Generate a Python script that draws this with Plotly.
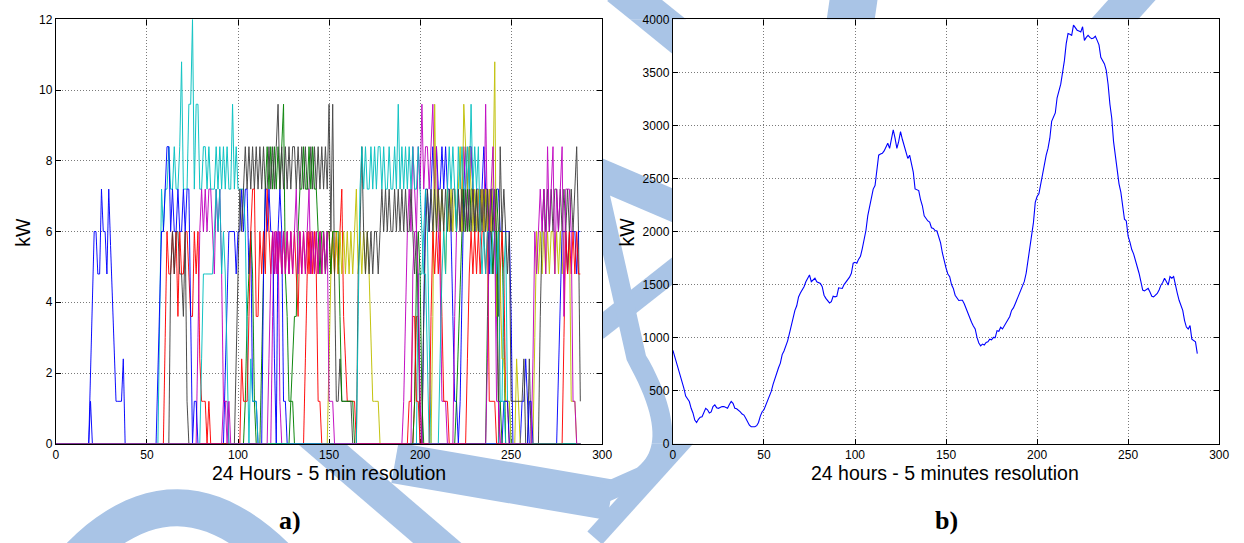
import math
import plotly.graph_objects as go

W, H = 1244, 543

# 288 five-minute intervals over one day
slots = list(range(289))

# Individual EV charging profiles in kW, stored as (first interval, values) sessions
ev01 = [
    (18, [0, 2.0, 4.0, 6.0, 6.0, 4.8, 4.8, 7.2, 6.0, 6.0, 4.8, 7.2, 5.6, 4.1, 2.6, 1.2, 1.2, 1.2, 1.2, 2.4, 0]),
    (92, [0, 2.0, 4.0, 6.0, 6.0, 6.0, 6.0, 4.8, 6.0, 6.0, 7.2, 6.0, 7.2, 7.2, 4.8, 6.0, 1.2, 1.2, 1.2, 0]),
    (121, [0, 6.0, 7.2, 6.0, 1.2, 1.2, 0]),
    (201, [0, 3.6, 7.2, 7.2, 6.0, 7.2, 8.4, 7.2, 8.4, 7.2, 7.2, 8.4, 7.2, 8.4, 7.2, 7.2, 6.0, 3.6, 1.2, 1.2,
           0, 1.2, 4.8, 7.2, 8.4, 7.2, 8.4, 8.4, 7.2, 6.0, 7.2, 7.2, 6.0, 7.2, 8.4, 7.2, 7.2, 4.8, 7.2, 7.2,
           6.0, 7.2, 7.2, 6.0, 6.0, 6.0, 6.0, 6.0, 6.0, 3.6, 0]),
    (255, [0, 1.2, 1.2, 2.4, 1.2, 0]),
]
ev02 = [
    (103, [0, 1.2, 3.6, 4.8, 6.0, 4.8, 1.2, 0]),
    (112, [0, 2.4, 4.8, 7.2, 8.4, 7.2, 8.4, 7.2, 8.4, 7.2, 8.4, 7.2, 8.4, 9.6, 4.8, 3.6, 1.2, 1.2, 1.2, 0]),
    (219, [0, 1.2, 3.0, 4.8, 6.0, 7.2, 6.0, 7.2, 6.0, 7.2, 7.2, 6.0, 7.2, 6.0, 6.0, 7.2, 6.0, 7.2, 6.0, 6.0,
           7.2, 6.0, 6.0, 7.2, 6.0, 6.0, 6.0, 3.0, 0]),
]
ev03 = [
    (59, [0, 3.0, 6.0, 4.8, 4.8, 6.0, 4.8, 6.0, 3.6, 6.0, 4.8, 4.8, 6.0, 6.0, 4.8, 3.6, 3.6, 6.0, 4.8, 6.0,
          2.4, 1.2, 1.2, 1.2, 0, 1.2, 0]),
    (136, [0, 2.4, 4.8, 6.0, 4.8, 6.0, 4.8, 6.0, 4.8, 6.0, 4.8, 6.0, 4.8, 6.0, 6.0, 4.8, 6.0, 4.8, 6.0, 4.8,
           6.0, 7.2, 3.6, 2.4, 1.2, 1.2, 1.2, 1.2, 1.2, 0]),
    (196, [0, 1.2, 3.6, 3.6, 1.2, 0]),
    (243, [0, 4.8, 6.0, 4.8, 1.2, 1.2, 0]),
]
ev04 = [
    (56, [0, 3.6, 7.2, 6.0, 7.2, 7.2, 8.4, 7.2, 7.2, 8.4, 7.2, 7.2, 8.4, 10.8, 7.2, 7.2, 7.2, 9.6, 9.6, 12.0,
          7.2, 9.6, 9.6, 7.2, 7.2, 8.4, 8.4, 7.2, 8.4, 7.2, 7.2, 7.2, 8.4, 7.2, 8.4, 7.2, 8.4, 7.2, 8.4, 7.2,
          7.2, 9.6, 7.2, 8.4, 7.2, 7.2, 7.2, 7.2, 6.0, 2.4, 0]),
    (198, [0, 4.8, 4.8, 4.8, 6.0, 7.2, 6.0, 2.4, 0]),
    (243, [0, 1.2, 1.2, 4.8, 6.0, 1.2, 1.2, 0]),
]
ev05 = [
    (77, [0, 3.0, 6.0, 7.2, 6.0, 7.2, 6.0, 7.2, 7.2, 6.0, 4.8, 7.2, 6.0, 7.2, 4.8, 1.2, 1.2, 1.2, 0]),
    (118, [0, 3.6, 6.0, 4.8, 6.0, 1.2, 0]),
    (190, [0, 1.2, 3.6, 6.0, 7.2, 6.0, 8.4, 7.2, 6.0, 8.4, 7.2, 9.6, 7.2, 8.4, 8.4, 7.2, 8.4, 9.6, 7.2, 8.4,
           6.0, 4.8, 1.2, 1.2, 1.2, 0]),
    (218, [0, 3.6, 6.0, 7.2, 6.0, 7.2, 8.4, 7.2, 6.0, 7.2, 8.4, 7.2, 6.0, 6.0, 7.2, 6.0, 7.2, 6.0, 9.6, 6.0,
           7.2, 6.0, 4.8, 6.0, 3.6, 1.2, 0]),
]
ev06 = [
    (149, [0, 2.4, 4.8, 6.0, 4.8, 6.0, 4.8, 6.0, 4.8, 6.0, 4.8, 6.0, 4.8, 6.0, 4.8, 6.0, 7.2, 4.8, 6.0, 4.8,
           6.0, 4.8, 6.0, 4.8, 3.0, 1.2, 1.2, 1.2, 1.2, 0]),
    (206, [0, 3.6, 9.6, 6.0, 7.2, 6.0, 7.2, 6.0, 4.8, 7.2, 6.0, 7.2, 6.0, 7.2, 6.0, 7.2, 8.4, 6.0, 9.6, 8.4,
           7.2, 8.4, 7.2, 6.0, 7.2, 6.0, 7.2, 6.0, 7.2, 6.0, 7.2, 6.0, 7.2, 6.0, 7.2, 10.8, 3.6, 6.0, 4.8, 2.4,
           2.4, 1.2, 1.2, 1.2, 0]),
    (252, [0, 2.4, 1.2, 0]),
    (262, [0, 3.0, 6.0, 4.8, 6.0, 4.8, 6.0, 4.8, 6.0, 4.8, 6.0, 6.0, 4.8, 6.0, 4.8, 6.0, 4.8, 6.0, 6.0, 4.8,
           6.0, 1.2, 1.2, 1.2, 0]),
]
ev07 = [
    (62, [0, 4.8, 6.0, 4.8, 6.0, 6.0, 4.8, 4.8, 3.6, 6.0, 1.2, 0]),
    (98, [0, 2.4, 4.8, 7.2, 6.0, 7.2, 8.4, 7.2, 8.4, 7.2, 8.4, 7.2, 8.4, 7.2, 8.4, 7.2, 8.4, 7.2, 7.2, 8.4,
          7.2, 8.4, 7.2, 8.4, 9.6, 7.2, 8.4, 7.2, 8.4, 7.2, 8.4, 7.2, 8.4, 8.4, 7.2, 8.4, 7.2, 8.4, 7.2, 8.4,
          7.2, 7.2, 8.4, 7.2, 8.4, 7.2, 8.4, 7.2, 8.4, 7.2, 8.4, 7.2, 9.6, 6.0, 9.6, 4.8, 1.2, 1.2, 2.4, 1.2,
          1.2, 1.2, 1.2, 1.2, 1.2, 0]),
    (165, [0, 4.8, 6.0, 8.4, 6.0, 4.8, 6.0, 4.8, 6.0, 4.8, 6.0, 6.0, 4.8, 6.0, 7.2, 6.0, 7.2, 6.0, 7.2, 6.0,
           6.0, 7.2, 6.0, 7.2, 6.0, 7.2, 6.0, 7.2, 6.0, 6.0, 7.2, 6.0, 4.8, 6.0, 3.6, 0]),
    (201, [0, 3.6, 6.0, 7.2, 6.0, 7.2, 6.0, 7.2, 6.0, 7.2, 6.0, 7.2, 6.0, 7.2, 6.0, 7.2, 6.0, 7.2, 7.2, 6.0,
           7.2, 6.0, 7.2, 6.0, 7.2, 6.0, 7.2, 6.0, 7.2, 6.0, 7.2, 6.0, 7.2, 6.0, 7.2, 6.0, 7.2, 6.0, 7.2, 6.0,
           7.2, 6.0, 3.6, 8.4, 6.0, 7.2, 6.0, 4.8, 6.0, 1.2, 1.2, 1.2, 1.2, 1.2, 1.2, 1.2, 2.4, 0, 0, 2.4, 0]),
    (265, [0, 3.6, 6.0, 7.2, 6.0, 7.2, 6.0, 7.2, 6.0, 7.2, 7.2, 6.0, 7.2, 6.0, 7.2, 6.0, 7.2, 6.0, 7.2, 6.0,
           7.2, 8.4, 6.0, 1.2]),
]
ev08 = [
    (18, [0, 1.2, 0]),
    (55, [0, 2.0, 4.0, 6.0, 6.0, 7.2, 8.4, 8.4, 6.0, 7.2, 6.0, 6.0, 7.2, 6.0, 6.0, 7.2, 6.0, 7.2, 7.2, 3.6,
          0, 1.2, 1.2, 0]),
    (113, [0, 4.8, 7.2, 6.0, 7.2, 6.0, 6.0, 2.4, 0]),
    (245, [0, 1.2, 1.2, 1.2, 0]),
    (259, [0, 1.2, 1.2, 0]),
    (275, [0, 2.0, 4.0, 6.0, 6.0, 6.0, 4.8, 6.0, 6.0, 6.0, 6.0, 4.8, 6.0, 6.0]),
]
ev09 = [
    (128, [0, 1.2, 2.4, 3.6, 3.6, 6.0, 7.2, 7.2, 8.4, 7.2, 7.2, 8.4, 7.2, 8.4, 7.2, 7.2, 6.0, 4.8, 6.0, 6.0,
           4.8, 6.0, 6.0, 4.8, 6.0, 6.0, 6.0, 6.0, 3.6, 1.2, 1.2, 1.2, 1.2, 1.2, 1.2, 1.2, 0]),
    (196, [0, 1.2, 4.8, 6.0, 4.8, 1.2, 0]),
    (236, [0, 3.6, 6.0, 6.0, 4.8, 6.0, 6.0, 1.2, 1.2, 0]),
]
ev10 = [
    (101, [0, 2.4, 1.2, 1.2, 1.2, 3.6, 6.0, 7.2, 7.2, 3.6, 3.6, 6.0, 4.8, 6.0, 4.8, 7.2, 6.0, 4.8, 6.0, 4.8,
           6.0, 4.8, 6.0, 4.8, 6.0, 4.8, 6.0, 4.8, 6.0, 4.8, 6.0, 4.8, 3.6, 6.0, 4.8, 6.0, 4.8, 6.0, 4.8, 6.0,
           4.8, 6.0, 4.8, 1.2, 1.2, 0]),
    (193, [0, 1.2, 1.2, 3.6, 3.6, 1.2, 1.2, 0]),
    (205, [0, 3.6, 6.0, 4.8, 6.0, 4.8, 6.0, 3.6, 1.2, 1.2, 1.2, 0]),
    (225, [0, 2.4, 4.8, 6.0, 4.8, 6.0, 4.8, 6.0, 4.8, 6.0, 6.0, 4.8, 6.0, 1.2, 1.2, 1.2, 1.2, 0]),
    (278, [0, 3.0, 6.0, 4.8, 6.0, 4.8, 6.0, 4.8, 6.0, 4.8, 4.8]),
]
ev11 = [
    (79, [0, 2.4, 4.8, 4.8, 4.8, 4.8, 4.8, 4.8, 6.0, 7.2, 6.0, 7.2, 4.8, 6.0, 4.8, 2.4, 0]),
    (106, [0, 2.4, 1.2, 1.2, 1.2, 0]),
    (165, [0, 3.6, 7.2, 8.4, 7.2, 8.4, 7.2, 7.2, 8.4, 7.2, 8.4, 7.2, 8.4, 8.4, 7.2, 8.4, 7.2, 7.2, 8.4, 7.2,
           7.2, 8.4, 7.2, 9.6, 7.2, 8.4, 7.2, 8.4, 7.2, 8.4, 7.2, 8.4, 7.2, 7.2, 8.4, 7.2, 6.0, 4.8, 4.8, 2.4, 0]),
    (210, [0, 2.4, 4.8, 6.0, 4.8, 7.2, 8.4, 7.2, 8.4, 7.2, 6.0, 8.4, 7.2, 8.4, 7.2, 7.2, 8.4, 7.2, 9.6, 7.2,
           8.4, 7.2, 8.4, 6.0, 4.8, 6.0, 4.8, 6.0, 6.0, 4.8, 6.0, 6.0, 4.8, 6.0, 1.2, 1.2, 1.2, 0]),
]
ev12 = [
    (91, [0, 1.2, 1.2, 0, 1.2, 0]),
    (116, [0, 2.4, 4.8, 6.0, 4.8, 6.0, 4.8, 6.0, 4.8, 6.0, 4.8, 6.0, 4.8, 6.0, 4.8, 6.0, 7.2, 4.8, 6.0, 4.8,
           6.0, 4.8, 6.0, 7.2, 4.8, 6.0, 4.8, 6.0, 4.8, 6.0, 4.8, 6.0, 4.8, 6.0, 1.2, 1.2, 1.2, 0]),
    (195, [0, 4.8, 6.0, 6.0, 4.8, 1.2, 0]),
    (236, [0, 2.4, 6.0, 7.2, 8.4, 6.0, 1.2, 1.2, 0]),
    (261, [0, 2.4, 6.0, 4.8, 6.0, 7.2, 6.0, 7.2, 4.8, 8.4, 6.0, 7.2, 8.4, 4.8, 7.2, 6.0, 7.2, 8.4, 3.6, 7.2,
           7.2, 7.2, 6.0, 1.2, 1.2, 0]),
]
ev_profiles = [ev01, ev02, ev03, ev04, ev05, ev06, ev07, ev08, ev09, ev10, ev11, ev12]

# classic line colour order: b, g, r, c, m, y, k
line_colors = ["#0000ff", "#008000", "#ff0000", "#00bfbf", "#bf00bf", "#bfbf00", "#404040"]

# Aggregated fleet charging demand, kW
fleet_kw = [
    880, 820, 760, 700, 640, 600, 525, 450, 420, 398,
    334, 290, 223, 200, 230, 250, 255, 290, 334, 320,
    290, 300, 350, 366, 340, 334, 345, 350, 350, 345,
    334, 370, 398, 380, 334, 330, 318, 300, 280, 270,
    240, 210, 175, 160, 158, 160, 170, 200, 260, 302,
    320, 360, 398, 440, 493, 560, 620, 680, 716, 760,
    840, 875, 920, 970, 1040, 1120, 1193, 1257, 1300, 1384,
    1420, 1450, 1480, 1527, 1560, 1591, 1527, 1545, 1560, 1527,
    1520, 1511, 1480, 1400, 1370, 1352, 1327, 1340, 1390, 1385,
    1390, 1470, 1464, 1464, 1500, 1520, 1543, 1570, 1607, 1702,
    1710, 1702, 1740, 1766, 1840, 1925, 2010, 2148, 2240, 2339,
    2400, 2434, 2600, 2720, 2730, 2737, 2760, 2800, 2832, 2784,
    2870, 2959, 2880, 2784, 2850, 2943, 2870, 2816, 2760, 2689,
    2720, 2640, 2561, 2402, 2390, 2386, 2300, 2243, 2148, 2120,
    2100, 2090, 2036, 2030, 2010, 2005, 1950, 1893, 1798, 1720,
    1655, 1600, 1575, 1500, 1464, 1400, 1368, 1350, 1352, 1352,
    1320, 1273, 1230, 1180, 1145, 1110, 1082, 1002, 950, 923,
    939, 930, 955, 960, 986, 980, 1002, 1000, 1066, 1060,
    1098, 1082, 1110, 1140, 1161, 1200, 1257, 1280, 1320, 1360,
    1416, 1440, 1480, 1530, 1607, 1720, 1830, 1950, 2084, 2275,
    2330, 2355, 2450, 2530, 2657, 2720, 2784, 2880, 3039, 3080,
    3118, 3261, 3330, 3389, 3500, 3611, 3771, 3866, 3860, 3850,
    3946, 3920, 3898, 3890, 3882, 3930, 3802, 3830, 3850, 3830,
    3818, 3825, 3841, 3802, 3760, 3643, 3610, 3580, 3520, 3389,
    3200, 3070, 2848, 2700, 2561, 2450, 2371, 2211, 2116, 2100,
    1957, 1900, 1830, 1790, 1734, 1680, 1607, 1530, 1448, 1440,
    1450, 1464, 1430, 1390, 1385, 1400, 1416, 1450, 1495, 1520,
    1559, 1530, 1495, 1575, 1560, 1575, 1480, 1420, 1352, 1300,
    1257, 1161, 1100, 1082, 1114, 986, 970, 960, 850,
]

x_ticks = [0, 50, 100, 150, 200, 250, 300]
ev_ticks = [0, 2, 4, 6, 8, 10, 12]
fleet_ticks = [0, 500, 1000, 1500, 2000, 2500, 3000, 3500, 4000]


def daily_profile(sessions):
    kw = [0.0] * len(slots)
    for start, values in sessions:
        for i, v in enumerate(values):
            if start + i < len(kw):
                kw[start + i] = v
    return kw


# plot areas in pixels: (left, top, right, bottom)
LEFT_BOX = (53.5, 12.7, 605.5, 448.3)
RIGHT_BOX = (677.0, 12.7, 1229.0, 448.3)

fig = go.Figure()

for k, sessions in enumerate(ev_profiles):
    fig.add_trace(go.Scatter(
        x=slots, y=daily_profile(sessions), mode="lines",
        line=dict(color=line_colors[k % len(line_colors)], width=1),
        opacity=0.92, xaxis="x", yaxis="y", hoverinfo="skip",
    ))

fig.add_trace(go.Scatter(
    x=slots[:len(fleet_kw)], y=fleet_kw, mode="lines",
    line=dict(color="#0000ff", width=1.1), xaxis="x2", yaxis="y2",
))

tick_font = dict(family="Liberation Sans, Arial, sans-serif", size=12, color="black")
axis_style = dict(
    showline=True, linecolor="black", linewidth=1.4, mirror="ticks",
    ticks="inside", ticklen=5, tickwidth=1, tickcolor="black",
    showgrid=True, gridcolor="#7a7a7a", gridwidth=1, griddash="1px,2px",
    zeroline=False, tickfont=tick_font, fixedrange=True, layer="below traces",
)

ydom = [1 - LEFT_BOX[3] / H, 1 - LEFT_BOX[1] / H]

fig.update_layout(
    width=W, height=H,
    margin=dict(l=0, r=0, t=0, b=0),
    paper_bgcolor="white", plot_bgcolor="white",
    showlegend=False,
    xaxis=dict(domain=[LEFT_BOX[0] / W, LEFT_BOX[2] / W], range=[0, 300],
               tickvals=x_ticks, anchor="y", **axis_style),
    yaxis=dict(domain=ydom, range=[0, 12], tickvals=ev_ticks, anchor="x", **axis_style),
    xaxis2=dict(domain=[RIGHT_BOX[0] / W, RIGHT_BOX[2] / W], range=[0, 300],
                tickvals=x_ticks, anchor="y2", **axis_style),
    yaxis2=dict(domain=ydom, range=[0, 4000], tickvals=fleet_ticks, anchor="x2", **axis_style),
)


# ---- light blue background emblem (only visible outside the two plot areas) ----
def quad(p0, p1, p2, steps=24):
    pts = []
    for i in range(steps + 1):
        t = i / steps
        a, b, c = (1 - t) ** 2, 2 * (1 - t) * t, t * t
        pts.append((a * p0[0] + b * p1[0] + c * p2[0], a * p0[1] + b * p1[1] + c * p2[1]))
    return pts


def stroke_outline(pts, width):
    half = width / 2
    left, right = [], []
    n = len(pts)
    for i, (x, y) in enumerate(pts):
        xa, ya = pts[max(i - 1, 0)]
        xb, yb = pts[min(i + 1, n - 1)]
        dx, dy = xb - xa, yb - ya
        d = math.hypot(dx, dy) or 1.0
        nx, ny = -dy / d, dx / d
        left.append((x + nx * half, y + ny * half))
        right.append((x - nx * half, y - ny * half))
    return left + right[::-1]


def clip_rect(poly, x0, y0, x1, y1):
    def cut(pts, inside, cross):
        out = []
        for i in range(len(pts)):
            cur, prev = pts[i], pts[i - 1]
            if inside(cur):
                if not inside(prev):
                    out.append(cross(prev, cur))
                out.append(cur)
            elif inside(prev):
                out.append(cross(prev, cur))
        return out

    def at_x(c):
        return lambda p, q: (c, p[1] + (q[1] - p[1]) * (c - p[0]) / (q[0] - p[0]))

    def at_y(c):
        return lambda p, q: (p[0] + (q[0] - p[0]) * (c - p[1]) / (q[1] - p[1]), c)

    pts = poly
    for inside, cross in (
        (lambda p: p[0] >= x0, at_x(x0)),
        (lambda p: p[0] <= x1, at_x(x1)),
        (lambda p: p[1] >= y0, at_y(y0)),
        (lambda p: p[1] <= y1, at_y(y1)),
    ):
        if not pts:
            break
        pts = cut(pts, inside, cross)
    return pts


emblem_strokes = [
    (quad((70, 572), (175, 455), (285, 574)), 38),
    ([(270, 403), (465, 573)], 32),
    ([(396, 468), (614, 506)], 42),
    ([(480, 118), (760, 240)], 32),
    ([(725, 232), (600, 332)], 22),
    ([(598, 170), (640, 360)] + quad((640, 360), (690, 450), (645, 482))[1:] + [(605, 500)], 20),
    ([(695, 436), (598, 545)], 20),
    ([(622, -20), (722, 62)], 36),
    ([(862, -25), (850, 60)], 48),
    ([(1152, -20), (1080, 62)], 36),
]
# page regions that lie outside the two plot areas
open_regions = [
    (-60, -60, W + 60, LEFT_BOX[1]),
    (-60, LEFT_BOX[3], W + 60, H + 60),
    (-60, LEFT_BOX[1], LEFT_BOX[0], LEFT_BOX[3]),
    (LEFT_BOX[2], LEFT_BOX[1], RIGHT_BOX[0], LEFT_BOX[3]),
    (RIGHT_BOX[2], LEFT_BOX[1], W + 60, LEFT_BOX[3]),
]
mark = "#a9c4e6"
shapes = []
for pts, width in emblem_strokes:
    outline = stroke_outline(pts, width)
    for region in open_regions:
        piece = clip_rect(outline, *region)
        if len(piece) < 3:
            continue
        path = "M " + " L ".join(f"{x / W:.5f},{1 - y / H:.5f}" for x, y in piece) + " Z"
        shapes.append(dict(type="path", path=path, xref="paper", yref="paper", layer="below",
                           fillcolor=mark, line=dict(width=0)))
fig.update_layout(shapes=shapes)

label_font = dict(family="Liberation Sans, Arial, sans-serif", size=19.5, color="black")
panel_font = dict(family="Liberation Serif, Times New Roman, serif", size=26, color="black")
notes = [
    dict(text="kW", x=20 / W, y=1 - 231 / H, textangle=-90, font=label_font),
    dict(text="kW", x=631 / W, y=1 - 231 / H, textangle=-90, font=label_font),
    dict(text="24 Hours - 5 min resolution", x=329 / W, y=1 - 478 / H, font=label_font),
    dict(text="24 hours - 5 minutes resolution", x=952 / W, y=1 - 478 / H, font=label_font),
    dict(text="<b>a)</b>", x=290 / W, y=1 - 527 / H, font=panel_font),
    dict(text="<b>b)</b>", x=953 / W, y=1 - 527 / H, font=panel_font),
]
for n in notes:
    fig.add_annotation(xref="paper", yref="paper", showarrow=False,
                       xanchor="center", yanchor="middle", **n)

fig.write_html("out.html")
